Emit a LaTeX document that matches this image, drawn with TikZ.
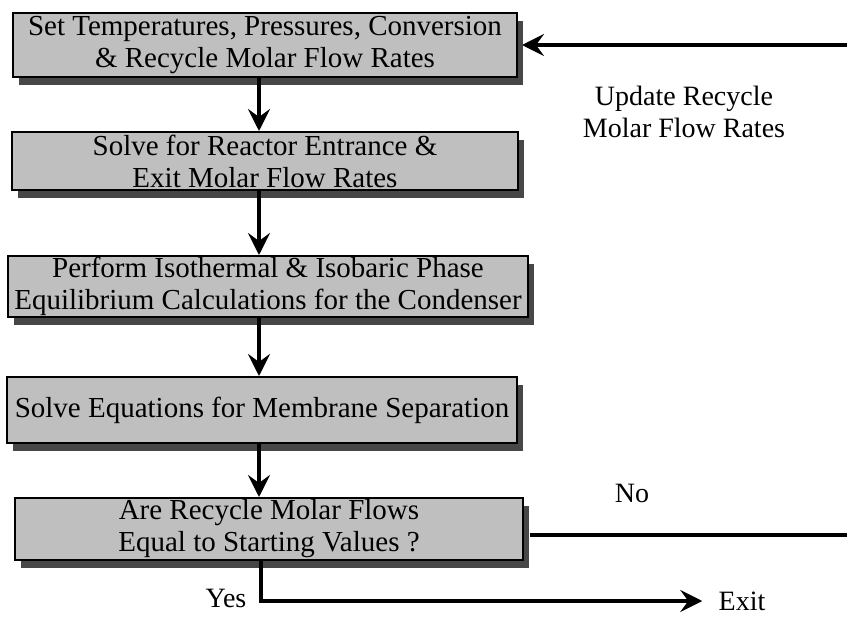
\documentclass[tikz,border=0pt]{standalone}
\usepackage{fontspec}
\setmainfont{Liberation Serif}
\usetikzlibrary{arrows.meta,shadows}
\begin{document}
\begin{tikzpicture}[x=0.5pt,y=-0.5pt,
  box/.style={draw=black, line width=1pt, fill=black!25, align=center, inner sep=0pt,
    font=\fontsize{14.5}{16}\selectfont,
    drop shadow={shadow xshift=3pt, shadow yshift=-4pt, fill=black!72, opacity=1}},
  arr/.style={line width=2.3pt, -{Stealth[length=11pt,width=11pt,inset=4pt]}},
  plain/.style={line width=2.3pt},
  lab/.style={font=\fontsize{14}{14}\selectfont, inner sep=0pt}]
\useasboundingbox (0,0) rectangle (847,633);
\node[box, minimum width=252pt, minimum height=32pt] (b1) at (265,45)
  {Set Temperatures, Pressures, Conversion\\\& Recycle Molar Flow Rates};
\node[box, minimum width=253pt, minimum height=29pt] (b2) at (265,161)
  {Solve for Reactor Entrance \&\\Exit Molar Flow Rates};
\node[box, minimum width=260pt, minimum height=30.5pt] (b3) at (268,286.5)
  {Perform Isothermal \& Isobaric Phase\\Equilibrium Calculations for the Condenser};
\node[box, minimum width=255pt, minimum height=33pt] (b4) at (262,410)
  {Solve Equations for Membrane Separation};
\node[box, minimum width=254pt, minimum height=31pt] (b5) at (269,529)
  {Are Recycle Molar Flows\\Equal to Starting Values ?};
\coordinate (ax) at (259,0);
\draw[arr] (b1.south -| ax) -- (b2.north -| ax);
\draw[arr] (b2.south -| ax) -- (b3.north -| ax);
\draw[arr] (b3.south -| ax) -- (b4.north -| ax);
\draw[arr] (b4.south -| ax) -- (b5.north -| ax);
\coordinate (r1) at (847,45);
\draw[arr] (r1) -- ([xshift=2pt]b1.east |- r1);
\node[lab, align=center] (upd) at (684,112) {Update Recycle\\[2pt]Molar Flow Rates};
\coordinate (r2) at (847,535);
\draw[plain] ([xshift=3pt]b5.east |- r2) -- (r2);
\node[lab] (no) at (632,493) {No};
\node[lab] (yes) at (226,598) {Yes};
\node[lab] (exit) at (742,601) {Exit};
\coordinate (yx) at (261,0);
\draw[arr] (b5.south -| yx) |- ([xshift=-8pt]exit.west);
\end{tikzpicture}
\end{document}
